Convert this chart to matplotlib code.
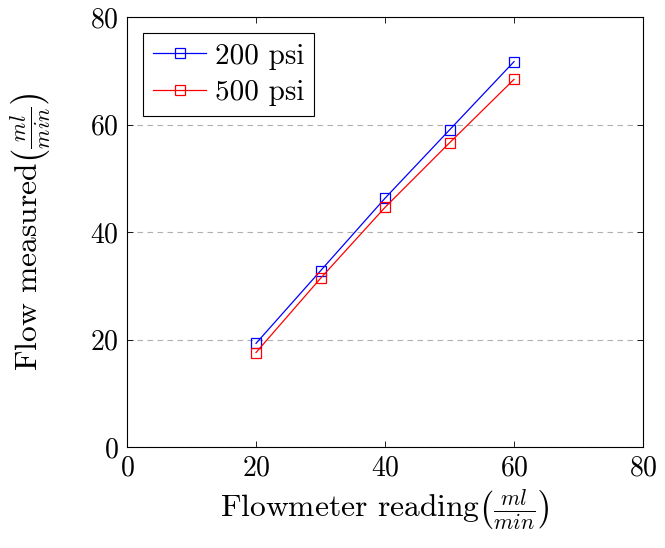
import matplotlib
matplotlib.use("Agg")
import matplotlib.pyplot as plt

plt.rcParams['font.family'] = 'serif'
plt.rcParams['font.serif'] = ['cmr10']
plt.rcParams['mathtext.fontset'] = 'cm'
plt.rcParams['axes.formatter.use_mathtext'] = True

# Flowmeter calibration data
flowmeter_reading = [20, 30, 40, 50, 60]
flow_200psi = [19.3, 32.8, 46.3, 59.0, 71.7]
flow_500psi = [17.6, 31.4, 44.6, 56.6, 68.4]
x_ticks = [0, 20, 40, 60, 80]
y_ticks = [0, 20, 40, 60, 80]

fig = plt.figure(figsize=(6.65, 5.48), dpi=100)
ax = fig.add_axes([0.191, 0.184, 0.776, 0.785])

ax.plot(flowmeter_reading, flow_200psi, color='blue', lw=0.9, marker='s',
        markersize=7.5, markerfacecolor='none', markeredgewidth=0.9, label='200 psi')
ax.plot(flowmeter_reading, flow_500psi, color='red', lw=0.9, marker='s',
        markersize=7.5, markerfacecolor='none', markeredgewidth=0.9, label='500 psi')

ax.set_xlim(0, 80)
ax.set_ylim(0, 80)
ax.set_xticks(x_ticks)
ax.set_yticks(y_ticks)
ax.tick_params(direction='in', top=True, right=True, labelsize=20, length=4,
               width=0.6, pad=6)
ax.yaxis.grid(True, linestyle=(0, (5, 4)), color='#b0b0b0', lw=0.8)
ax.set_axisbelow(True)
for s in ax.spines.values():
    s.set_linewidth(0.8)

ax.set_xlabel(r'Flowmeter reading$\left(\frac{ml}{min}\right)$', fontsize=22.7, labelpad=4)
ax.set_ylabel(r'Flow measured$\left(\frac{ml}{min}\right)$', fontsize=22.7, labelpad=26)

leg = ax.legend(loc='upper left', fontsize=21, fancybox=False, edgecolor='black',
                framealpha=1, borderaxespad=0.55, handlelength=1.8,
                handletextpad=0.3, labelspacing=0.35, borderpad=0.35)
leg.get_frame().set_linewidth(0.8)

fig.savefig('out.png', dpi=100)
